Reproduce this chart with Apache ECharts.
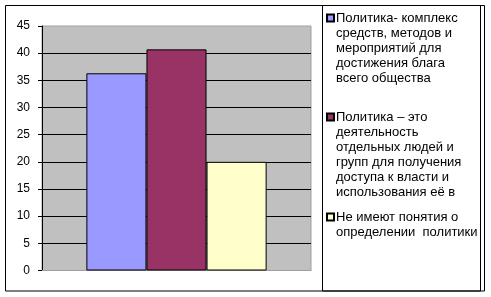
<!DOCTYPE html>
<html>
<head>
<meta charset="utf-8">
<style>
  html, body { margin: 0; padding: 0; background: #ffffff; }
  #chart { width: 491px; height: 297px; }
</style>
<script src="https://cdn.jsdelivr.net/npm/echarts@6/dist/echarts.min.js"></script>
</head>
<body>
<div id="chart"></div>
<script>
// Answers to the question "what is politics"
const seriesNames = [
  'Политика- комплекс средств, методов и мероприятий для достижения блага всего общества',
  'Политика – это деятельность отдельных людей и групп для получения доступа к власти и использования её в',
  'Не имеют понятия о определении  политики'
];
// Legend text split into the lines it is shown with
const legendLines = [
  ['Политика- комплекс', 'средств, методов и', 'мероприятий для', 'достижения блага', 'всего общества'],
  ['Политика – это', 'деятельность', 'отдельных людей и', 'групп для получения', 'доступа к власти и', 'использования её в'],
  ['Не имеют понятия о', 'определении  политики']
];
const values = [36.3, 40.7, 20];
const colors = ['#9999FF', '#993366', '#FFFFCC'];
const yMin = 0, yMax = 45, yStep = 5;

// Vertical centre of the first text line of each legend entry
const legendFirstLine = [18, 117, 217];
const lineH = 15;

const font = '"Liberation Sans", Arial, sans-serif';

const series = seriesNames.map((name, i) => ({
  name: name,
  type: 'bar',
  data: [values[i]],
  barGap: '0%',
  barCategoryGap: '33%',
  itemStyle: { color: colors[i], borderColor: '#000000', borderWidth: 1 },
  emphasis: { disabled: true },
  animation: false
}));

// One legend block per entry; blank lines in front keep the marker
// level with the first line of a multi-line label.
const legends = seriesNames.map((name, i) => {
  const n = legendLines[i].length;
  return {
    data: [name],
    left: 326,
    top: legendFirstLine[i] - (n - 1) * lineH - lineH / 2,
    padding: 0,
    orient: 'vertical',
    icon: 'rect',
    itemWidth: 7,
    itemHeight: 7,
    selectedMode: false,
    formatter: () => '\n'.repeat(n - 1) + legendLines[i].join('\n'),
    textStyle: {
      fontFamily: font,
      fontSize: 13,
      color: '#000000',
      lineHeight: lineH,
      padding: [0, 0, 0, -3]
    }
  };
});

const chart = echarts.init(document.getElementById('chart'), null, { renderer: 'canvas' });
chart.setOption({
  backgroundColor: '#ffffff',
  animation: false,
  grid: {
    left: 42, top: 26, right: 180, bottom: 26.5,
    show: true,
    backgroundColor: '#C0C0C0',
    borderColor: '#A0A0A0',
    borderWidth: 1
  },
  legend: legends,
  xAxis: {
    type: 'category',
    data: [''],
    axisLine: { show: true, lineStyle: { color: '#A0A0A0', width: 1 } },
    axisTick: { show: false },
    axisLabel: { show: false },
    splitLine: { show: false }
  },
  yAxis: {
    type: 'value',
    min: yMin, max: yMax, interval: yStep,
    axisLine: { show: true, lineStyle: { color: '#000000', width: 1 } },
    axisTick: { show: true, inside: false, length: 4, lineStyle: { color: '#000000' } },
    axisLabel: { margin: 12, fontFamily: font, fontSize: 12, color: '#000000' },
    splitLine: {
      show: true, showMinLine: false, showMaxLine: false,
      lineStyle: { color: '#000000', width: 1 }
    }
  },
  series: series,
  graphic: [
    {
      type: 'rect', silent: true, z: 100,
      shape: { x: 5.5, y: 5.5, width: 479, height: 285.5 },
      style: { fill: 'none', stroke: '#000000', lineWidth: 1 }
    },
    {
      type: 'rect', silent: true, z: 100,
      shape: { x: 322.5, y: 5.5, width: 158, height: 285.5 },
      style: { fill: 'none', stroke: '#000000', lineWidth: 1 }
    }
  ]
});
</script>
</body>
</html>
